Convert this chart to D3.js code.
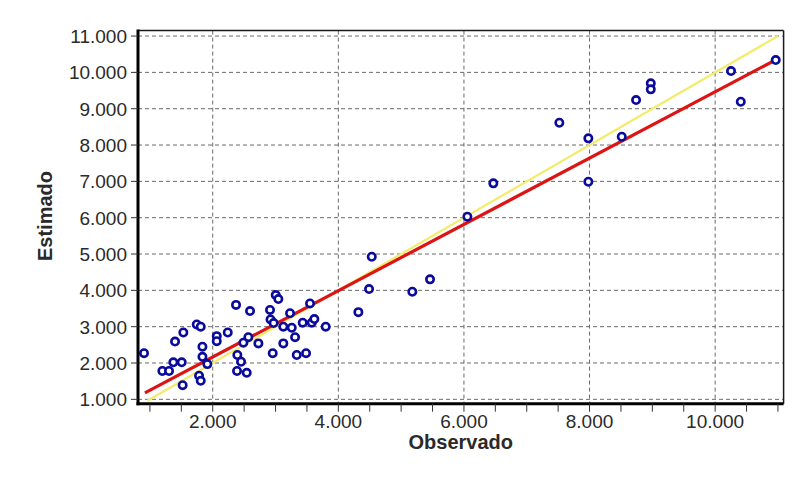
<!DOCTYPE html>
<html>
<head>
<meta charset="utf-8">
<script src="https://cdn.jsdelivr.net/npm/d3@7"></script>
<style>
  html, body { margin: 0; padding: 0; background: #ffffff; }
  svg { display: block; }
  text { font-family: "Liberation Sans", Arial, sans-serif; fill: #2a2a2a; }
</style>
</head>
<body>
<svg id="chart" width="797" height="484"></svg>
<script>
// ---- data ----
const observado = [906, 1198, 1304, 1373, 1506, 1400, 1532, 1521, 1745, 1809, 1836, 1836, 1914, 1782, 1809,
  2064, 2064, 2239, 2371, 2594, 2567, 2488, 2727, 2392, 2451, 2387, 2541, 2912, 3003, 3045, 2920, 2970,
  3124, 3231, 3258, 3311, 3124, 2955, 3338, 3486, 3549, 3433, 3576, 3618, 3799, 4319, 4532, 4489, 5178,
  5460, 6055, 6468, 7519, 7981, 7981, 8513, 8741, 8975, 8975, 10253, 10408, 10965];
const estimado = [2270, 1780, 1780, 2020, 2020, 2590, 2840, 1390, 3060, 3000, 2450, 2170, 1970, 1650, 1510,
  2740, 2600, 2840, 3600, 3430, 2710, 2560, 2540, 2220, 2035, 1780, 1730, 3460, 3870, 3760, 3200, 3100,
  3000, 3370, 2970, 2710, 2540, 2270, 2220, 2270, 3640, 3110, 3110, 3210, 3000, 3400, 4925, 4036, 3962,
  4303, 6026, 6945, 8614, 8184, 6990, 8228, 9238, 9698, 9533, 10036, 9191, 10339];
const fitLineX = [920, 10965];        // red fitted line (observado)
const fitLineY = [1180, 10345];       // red fitted line (estimado)
const identityX = [960, 11000];       // yellow 1:1 line
const identityY = [960, 11000];
const xTickLabels = [2000, 4000, 6000, 8000, 10000];
const xMinorTicks = d3.range(1000, 11001, 500);
const yTickLabels = [1000, 2000, 3000, 4000, 5000, 6000, 7000, 8000, 9000, 10000, 11000];
const xTitle = "Observado";
const yTitle = "Estimado";

// ---- layout ----
const svg = d3.select("#chart");
const pL = 138, pR = 783.6, pT = 30.6, pB = 403.7;
const x = d3.scaleLinear().domain([810, 11090]).range([pL, pR]);
const y = d3.scaleLinear().domain([880, 11150]).range([pB, pT]);
const fmt = v => d3.format(",")(v).replace(/,/g, ".");

svg.append("rect").attr("x", pL).attr("y", pT)
  .attr("width", pR - pL).attr("height", pB - pT).attr("fill", "#ffffff");

// grid
const grid = svg.append("g");
grid.selectAll("line.h").data(yTickLabels).join("line").attr("class", "h")
  .attr("x1", pL).attr("x2", pR)
  .attr("y1", d => y(d)).attr("y2", d => y(d))
  .attr("stroke", "#6a6a6a").attr("stroke-width", 1).attr("stroke-dasharray", "4,3");
grid.selectAll("line.v").data(xTickLabels).join("line").attr("class", "v")
  .attr("y1", pT).attr("y2", pB)
  .attr("x1", d => x(d)).attr("x2", d => x(d))
  .attr("stroke", "#6a6a6a").attr("stroke-width", 1).attr("stroke-dasharray", "4,3");

// lines
const lineGen = d3.line().x(d => x(d[0])).y(d => y(d[1]));
svg.append("path").datum(d3.zip(identityX, identityY))
  .attr("d", lineGen).attr("fill", "none")
  .attr("stroke", "#f3ec6a").attr("stroke-width", 2.2);
svg.append("path").datum(d3.zip(fitLineX, fitLineY))
  .attr("d", lineGen).attr("fill", "none")
  .attr("stroke", "#dd1414").attr("stroke-width", 3.2);

// points
svg.append("g").selectAll("circle").data(d3.zip(observado, estimado)).join("circle")
  .attr("cx", d => x(d[0])).attr("cy", d => y(d[1])).attr("r", 3.7)
  .attr("fill", "#ffffff").attr("stroke", "#0a0a9c").attr("stroke-width", 2.6);

// frame
svg.append("line").attr("x1", pL).attr("x2", pR).attr("y1", pT).attr("y2", pT)
  .attr("stroke", "#1a1a1a").attr("stroke-width", 1.5);
svg.append("line").attr("x1", pR).attr("x2", pR).attr("y1", pT).attr("y2", pB)
  .attr("stroke", "#1a1a1a").attr("stroke-width", 1.5);
svg.append("line").attr("x1", pL).attr("x2", pL).attr("y1", pT - 1).attr("y2", pB + 1.5)
  .attr("stroke", "#000000").attr("stroke-width", 3);
svg.append("line").attr("x1", pL - 1.5).attr("x2", pR).attr("y1", pB).attr("y2", pB)
  .attr("stroke", "#000000").attr("stroke-width", 3);

// y axis ticks + labels
const yAxis = svg.append("g");
yAxis.selectAll("line").data(yTickLabels).join("line")
  .attr("x1", pL - 7).attr("x2", pL).attr("y1", d => y(d)).attr("y2", d => y(d))
  .attr("stroke", "#333").attr("stroke-width", 1);
yAxis.selectAll("text").data(yTickLabels).join("text")
  .attr("x", pL - 11).attr("y", d => y(d)).attr("dy", "0.36em")
  .attr("text-anchor", "end").attr("font-size", 19).text(d => fmt(d));

// x axis ticks + labels
const xAxis = svg.append("g");
xAxis.selectAll("line").data(xMinorTicks).join("line")
  .attr("x1", d => x(d)).attr("x2", d => x(d)).attr("y1", pB).attr("y2", pB + 8)
  .attr("stroke", "#333").attr("stroke-width", 1);
xAxis.selectAll("text").data(xTickLabels).join("text")
  .attr("x", d => x(d)).attr("y", 428)
  .attr("text-anchor", "middle").attr("font-size", 19).text(d => fmt(d));

// titles
svg.append("text").attr("x", (pL + pR) / 2).attr("y", 449)
  .attr("text-anchor", "middle").attr("font-size", 20).attr("font-weight", "bold")
  .attr("fill", "#1a1a1a").text(xTitle);
svg.append("text").attr("transform", "translate(52,216) rotate(-90)")
  .attr("text-anchor", "middle").attr("font-size", 20).attr("font-weight", "bold")
  .attr("fill", "#1a1a1a").text(yTitle);
</script>
</body>
</html>
